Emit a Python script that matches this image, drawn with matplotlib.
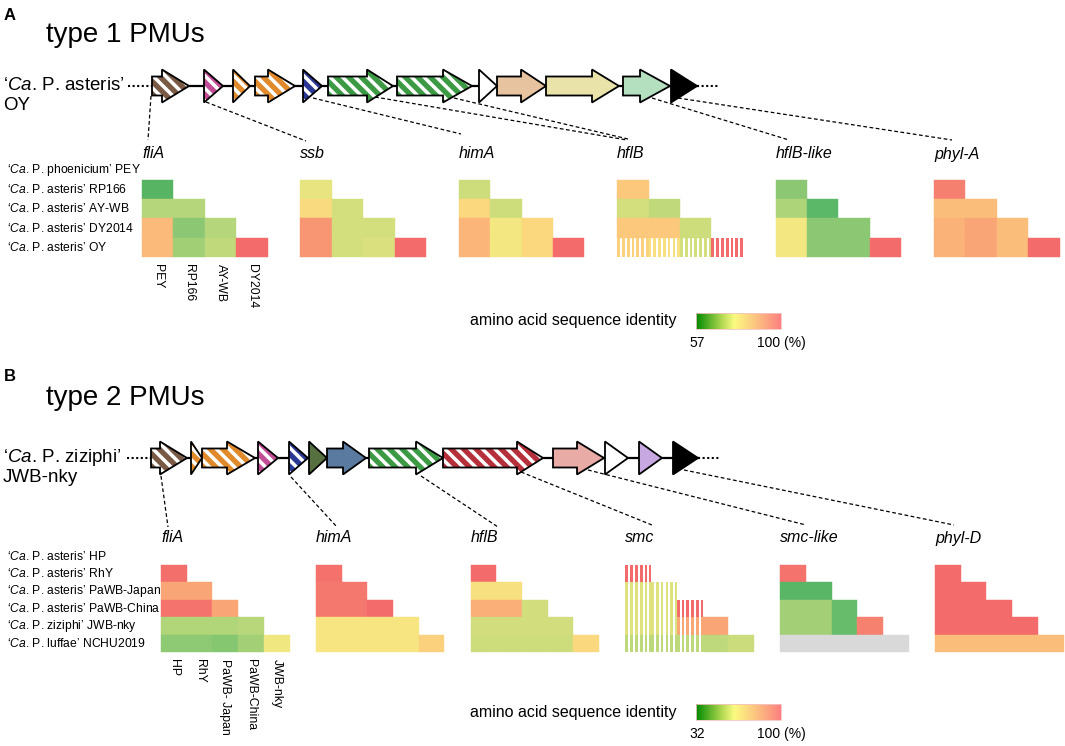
import numpy as np
import matplotlib
matplotlib.use('Agg')
import matplotlib.pyplot as plt
from matplotlib.patches import Polygon, Rectangle
from matplotlib.colors import LinearSegmentedColormap, Normalize

plt.rcParams['font.family'] = ['Liberation Sans', 'DejaVu Sans']
plt.rcParams['mathtext.fontset'] = 'custom'
plt.rcParams['mathtext.rm'] = 'Liberation Sans'
plt.rcParams['mathtext.it'] = 'Liberation Sans:italic'

nan = np.nan

# ---------------- data: type 1 PMUs ----------------
strainsA = ["‘$\\mathit{Ca}$. P. phoenicium’ PEY", "‘$\\mathit{Ca}$. P. asteris’ RP166",
            "‘$\\mathit{Ca}$. P. asteris’ AY-WB", "‘$\\mathit{Ca}$. P. asteris’ DY2014",
            "‘$\\mathit{Ca}$. P. asteris’ OY"]
colsA = ['PEY', 'RP166', 'AY-WB', 'DY2014']
genesA = ['fliA', 'ssb', 'himA', 'hflB', 'hflB-like', 'phyl-A']
fliA_A = [[63], [70, 70], [88, 67, 70], [88, 68.5, 71, 100]]
ssb_A = [[75], [80.5, 73], [94, 73, 73], [94, 73, 73.5, 100]]
himA_A = [[72.5], [81.5, 72.5], [89, 76, 81.5], [89, 76, 81.5, 100]]
hflB_A = [[85], [73, 71], [85, 85, 72.5], [83, 79, 73, 100]]
hflBl_A = [[67], [69.5, 63.5], [76, 67, 67], [76, 67, 67, 100]]
phylA_A = [[97], [87, 87], [89.5, 91.5, 87], [89.5, 91.5, 87, 100]]
hflB_A_part = [[0], [0, 0], [0, 0, 0], [1, 1, 1, 1]]
rangeA = (57, 100)

# ---------------- data: type 2 PMUs ----------------
strainsB = ["‘$\\mathit{Ca}$. P. asteris’ HP", "‘$\\mathit{Ca}$. P. asteris’ RhY",
            "‘$\\mathit{Ca}$. P. asteris’ PaWB-Japan", "‘$\\mathit{Ca}$. P. asteris’ PaWB-China",
            "‘$\\mathit{Ca}$. P. ziziphi’ JWB-nky", "‘$\\mathit{Ca}$. P. luffae’ NCHU2019"]
colsB = ['HP', 'RhY', 'PaWB- Japan', 'PaWB-China', 'JWB-nky']
genesB = ['fliA', 'himA', 'hflB', 'smc', 'smc-like', 'phyl-D']
fliA_B = [[99], [86.5, 86.5], [98, 98, 86.5], [52, 52, 52, 53], [48, 48, 47, 50.5, 62]]
himA_B = [[98.5], [97, 97], [97, 97, 99.5], [64, 64, 64, 64], [64, 64, 64, 64, 73]]
hflB_B = [[99.5], [66, 66], [84.5, 84.5, 57], [57, 57, 57, 57], [56.5, 56.5, 56.5, 56.5, 69.5]]
smc_B = [[99.5], [59, 59], [59, 59, 99.5], [59, 59, 86, 86.5], [54, 54, 54, 54, 56]]
smcl_B = [[98], [42, 42], [50.5, 50.5, 43.5], [50.5, 50.5, 43.5, 95], [nan, nan, nan, nan, nan]]
phylD_B = [[100], [100, 100], [100, 100, 100], [100, 100, 100, 100], [79.5, 79.5, 79.5, 79.5, 79.5]]
smc_B_part = [[1], [1, 1], [1, 1, 1], [1, 1, 1, 0], [1, 1, 1, 0, 0]]
rangeB = (32, 100)

# ---------------- gene maps (schematic coordinates) ----------------
mapA_start = [152, 204, 233, 255, 303, 328, 397, 479, 497, 546, 623, 671]
mapA_head = [162, None, None, 268, None, 367, 443, None, 521, 592, 640, None]
mapA_end = [189, 223, 250, 295, 322, 393, 472, 497, 546, 619, 670, 697]
mapA_color = ['#7a5a45', '#c24c96', '#e08a2c', '#e08a2c', '#2b3794', '#3c9a44', '#3c9a44',
              'white', '#e8c3a0', '#e9e3a9', '#b5e0c0', 'black']
mapA_stripe = [1, 1, 1, 1, 1, 1, 1, 0, 0, 0, 0, 0]
linkA_from = [(151, 96), (206, 102), (313, 98), (375, 97), (454, 98), (652, 98), (678, 98)]
linkA_to = [(148, 140), (306, 141), (461, 134), (627, 140), (628, 139), (789, 140), (952, 140)]

mapB_start = [151, 191, 202, 258, 289, 309, 327, 369, 443, 553, 605, 639, 673]
mapB_head = [160, None, 227, None, None, None, 343, 416, 517, 577, None, None, None]
mapB_end = [187, 202, 255, 278, 308, 327, 366, 443, 543, 604, 628, 662, 698]
mapB_color = ['#7a5a45', '#e08a2c', '#e08a2c', '#c24c96', '#2b3794', '#56703f', '#5b7aa0',
              '#3c9a44', '#b5303a', '#e8aba5', 'white', '#c8a8e0', 'black']
mapB_stripe = [1, 1, 1, 1, 1, 0, 0, 1, 1, 0, 0, 0, 0]
linkB_from = [(161, 476), (291, 477), (421, 476), (521, 472), (588, 470), (684, 470)]
linkB_to = [(168, 527), (337, 527), (498, 527), (652, 525), (806, 525), (954, 525)]

cmap = LinearSegmentedColormap.from_list('ident', [
    (0.0, '#118a11'), (0.15, '#5cb86a'), (0.30, '#b4d67a'), (0.45, '#f5e880'),
    (0.60, '#fcd27d'), (0.75, '#fbb479'), (0.88, '#f89072'), (1.0, '#f36b6b')])
cbar_cmap = LinearSegmentedColormap.from_list('bar', [
    (0.0, '#008a00'), (0.3, '#b0d850'), (0.45, '#fbfb80'), (0.7, '#fcc480'), (1.0, '#fc8080')])

fig = plt.figure(figsize=(10.65, 7.46), dpi=100)
ax = fig.add_axes([0, 0, 1, 1])
ax.set_xlim(0, 1065)
ax.set_ylim(746, 0)
ax.axis('off')


def draw_gene(x0, hb, x1, yc, color, striped, hh=16.5, bh=9.5):
    if hb is None:
        verts = [(x0, yc - hh), (x1, yc), (x0, yc + hh)]
    else:
        verts = [(x0, yc - bh), (hb, yc - bh), (hb, yc - hh), (x1, yc),
                 (hb, yc + hh), (hb, yc + bh), (x0, yc + bh)]
    body = Polygon(verts, closed=True, facecolor=color, edgecolor='none', zorder=3)
    ax.add_patch(body)
    if striped:
        period, ww = 12.5, 5.0
        s = x0 - 2 * hh - period
        while s < x1 + period:
            st = Polygon([(s, yc - hh), (s + ww, yc - hh), (s + ww + 2 * hh, yc + hh), (s + 2 * hh, yc + hh)],
                         closed=True, facecolor='white', edgecolor='none', zorder=4)
            ax.add_patch(st)
            st.set_clip_path(body)
            s += period
    ax.add_patch(Polygon(verts, closed=True, facecolor='none', edgecolor='black',
                         lw=1.3, zorder=5, joinstyle='miter'))


def draw_map(starts, heads, ends, colors, stripes, yc, froms, tos):
    ax.plot([starts[0] - 24, starts[0]], [yc, yc], color='black', lw=1.5, ls=(0, (1, 1.2)), zorder=2)
    ax.plot([ends[-1], ends[-1] + 21], [yc, yc], color='black', lw=1.5, ls=(0, (1, 1.2)), zorder=2)
    ax.plot([starts[0], ends[-1]], [yc, yc], color='black', lw=1.6, zorder=2)
    for x0, hb, x1, c, s in zip(starts, heads, ends, colors, stripes):
        draw_gene(x0, hb, x1, yc, c, s)
    for (xa, ya), (xb, yb) in zip(froms, tos):
        ax.plot([xa, xb], [ya, yb], color='black', lw=0.9, ls=(0, (3, 2)), zorder=1)


def draw_heat(left, top, w, h, vals, norm, part=None):
    for i, row in enumerate(vals):
        for j, v in enumerate(row):
            x, y = left + j * w, top + i * h
            c = '#d9d9d9' if np.isnan(v) else cmap(norm(v))
            if part is not None and part[i][j]:
                per, cw = 4.8, 2.7
                xx = x
                while xx < x + w - 0.5:
                    ax.add_patch(Rectangle((xx, y), min(cw, x + w - xx), h, facecolor=c, lw=0, zorder=2))
                    xx += per
            else:
                ax.add_patch(Rectangle((x, y), w, h, facecolor=c, edgecolor=c, lw=0.3, zorder=2))


def draw_panel(tag, tag_y, title, title_y, lab1, lab2, yc, strains, cols, genes, blocks, parts,
               lefts, top, w, h, glab_y, vrange, cb_y):
    ax.text(4, tag_y, tag, fontsize=12, fontweight='bold', va='baseline')
    ax.text(46, title_y, title, fontsize=20, va='baseline')
    ax.text(3, yc, lab1, fontsize=13.5, va='center')
    ax.text(3, yc + 20, lab2, fontsize=13.5, va='center')
    norm = Normalize(*vrange)
    for k, (g, vals, part) in enumerate(zip(genes, blocks, parts)):
        ax.text(lefts[k], glab_y, g, fontsize=11.5, style='italic', va='center')
        draw_heat(lefts[k], top, w, h, vals, norm, part)
    for i, s in enumerate(strains):
        ax.text(7, top + (i - 0.5) * h, s, fontsize=8.7, va='center')
    nrow = len(blocks[0])
    for j, c in enumerate(cols):
        ax.text(lefts[0] + (j + 0.5) * w, top + nrow * h + 7, c, rotation=-90,
                ha='center', va='top', fontsize=8.8)
    # colour key
    grad = np.linspace(0, 1, 256)[None, :]
    ax.imshow(grad, cmap=cbar_cmap, extent=(696, 781, cb_y + 8, cb_y - 8), aspect='auto', zorder=2)
    ax.add_patch(Rectangle((696, cb_y - 8), 85, 16, facecolor='none', edgecolor='#f4c4c4', lw=0.6, zorder=3))
    ax.text(676, cb_y, 'amino acid sequence identity', fontsize=11.5, ha='right', va='center')
    ax.text(697, cb_y + 22, f'{vrange[0]:d}', fontsize=10, ha='center', va='center')
    ax.text(757, cb_y + 22, f'{vrange[1]:d} (%)', fontsize=10, ha='left', va='center')


# panel A
draw_map(mapA_start, mapA_head, mapA_end, mapA_color, mapA_stripe, 86, linkA_from, linkA_to)
draw_panel('A', 20, 'type 1 PMUs', 42, '‘$\\mathit{Ca}$. P. asteris’', 'OY', 86,
           strainsA, colsA, genesA,
           [fliA_A, ssb_A, himA_A, hflB_A, hflBl_A, phylA_A],
           [None, None, None, hflB_A_part, None, None],
           [142 + 158.4 * k for k in range(6)], 180, 31.4, 19.2, 154, rangeA, 321)

# panel B
draw_map(mapB_start, mapB_head, mapB_end, mapB_color, mapB_stripe, 458, linkB_from, linkB_to)
draw_panel('B', 381, 'type 2 PMUs', 405, '‘$\\mathit{Ca}$. P. ziziphi’', 'JWB-nky', 458,
           strainsB, colsB, genesB,
           [fliA_B, himA_B, hflB_B, smc_B, smcl_B, phylD_B],
           [None, None, None, smc_B_part, None, None],
           [161 + 154.8 * k for k in range(6)], 565, 25.7, 17.4, 538, rangeB, 712)

ax.set_xlim(0, 1065)
ax.set_ylim(746, 0)
fig.savefig('out.png', dpi=100)
